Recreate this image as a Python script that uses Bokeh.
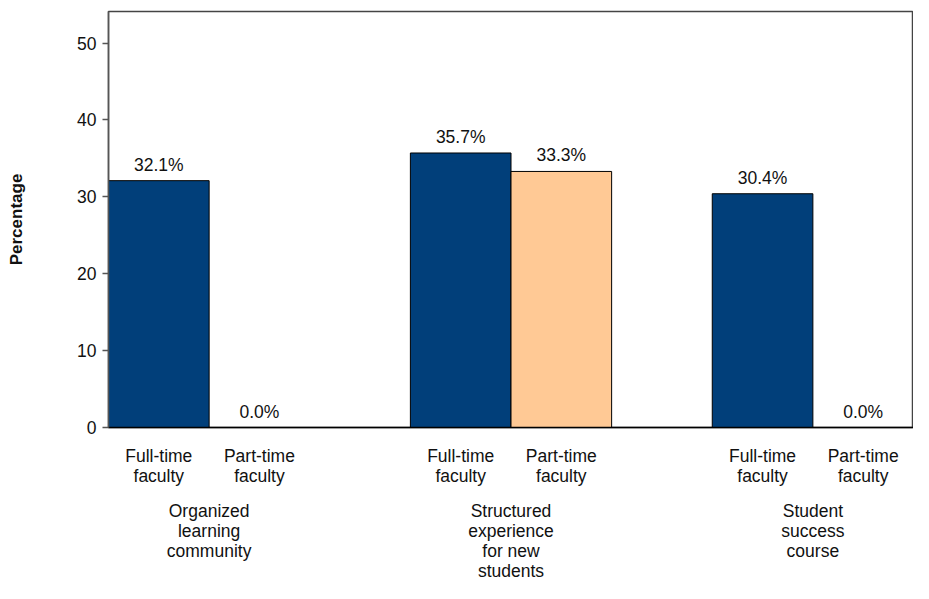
from bokeh.plotting import figure
from bokeh.models import FactorRange, Range1d, FixedTicker, ColumnDataSource
from bokeh.embed import file_html
from bokeh.resources import INLINE
from bokeh.core.properties import value

groups = ["Organized\nlearning\ncommunity", "Structured\nexperience\nfor new\nstudents", "Student\nsuccess\ncourse"]
subgroups = ["Full-time\nfaculty", "Part-time\nfaculty"]
full_time = [32.1, 35.7, 30.4]
part_time = [0.0, 33.3, 0.0]
y_ticks = [0, 10, 20, 30, 40, 50]

NAVY = "#013f7a"
PEACH = "#ffc995"
FONT = "Liberation Sans"
FS = "17.5px"

x = []
tops = []
colors = []
for i, g in enumerate(groups):
    x.append((g, subgroups[0])); tops.append(full_time[i]); colors.append(NAVY)
    x.append((g, subgroups[1])); tops.append(part_time[i]); colors.append(PEACH)

src = ColumnDataSource(dict(x=x, top=tops, color=colors,
                            label=[f"{v:.1f}%" for v in tops]))

p = figure(width=913, height=583, output_backend="svg", toolbar_location=None,
           x_range=FactorRange(*x, factor_padding=0, group_padding=1, range_padding=0),
           y_range=Range1d(0, 54.1),
           min_border_left=108, min_border_right=0, min_border_top=11, min_border_bottom=10)

p.vbar(x="x", top="top", width=1, source=src, fill_color="color",
       line_color="black", line_width=1)
p.text(x="x", y="top", text="label", source=src, text_align="center",
       text_baseline="bottom", y_offset=-6, text_font=value(FONT),
       text_font_size=FS, text_color="#111111")

p.xgrid.visible = False
p.ygrid.visible = False
p.outline_line_color = "#444444"
p.outline_line_width = 1.5

ya = p.yaxis[0]
ya.ticker = FixedTicker(ticks=y_ticks)
ya.axis_label = "Percentage"
ya.axis_label_text_font = FONT
ya.axis_label_text_font_style = "bold"
ya.axis_label_text_font_size = "17px"
ya.axis_label_text_color = "#111111"
ya.axis_label_standoff = 48
ya.axis_line_color = "#555555"
ya.axis_line_width = 1.5
ya.major_tick_line_color = "#555555"
ya.major_tick_line_width = 1.5
ya.major_tick_out = 6
ya.major_tick_in = 0
ya.minor_tick_line_color = None
ya.major_label_text_font = FONT
ya.major_label_text_font_size = FS
ya.major_label_text_color = "#111111"
ya.major_label_standoff = 6

xa = p.xaxis[0]
xa.axis_line_color = "black"
xa.axis_line_width = 1.5
xa.major_tick_line_color = None
xa.minor_tick_line_color = None
xa.separator_line_alpha = 0
xa.major_label_text_font = FONT
xa.major_label_text_font_size = FS
xa.major_label_text_color = "#111111"
xa.major_label_text_line_height = 1.0
xa.major_label_standoff = 12
xa.group_text_font = FONT
xa.group_text_font_size = FS
xa.group_text_color = "#111111"
xa.group_text_font_style = "normal"
xa.group_text_line_height = 1.0

open("out.html", "w").write(file_html(p, INLINE))
